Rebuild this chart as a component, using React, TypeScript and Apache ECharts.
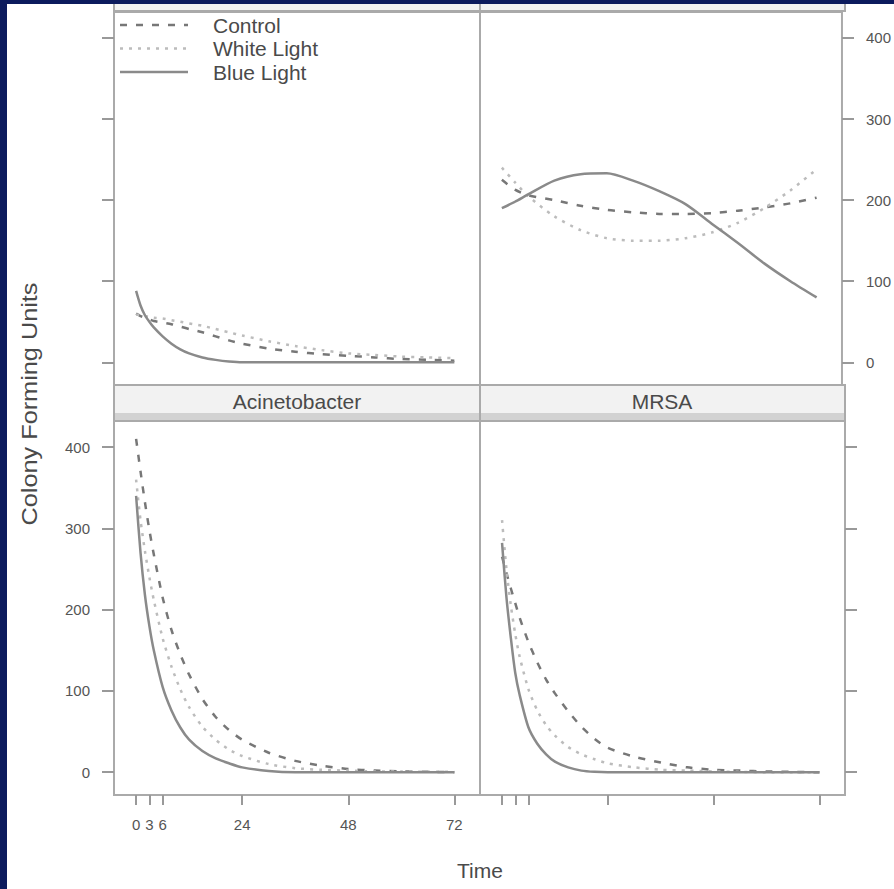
import React, { useEffect, useRef } from "react";
import * as echarts from "echarts";

// ---- data ----
const HOURS = [0, 1, 2, 3, 4, 6, 8, 10, 12, 15, 18, 21, 24, 30, 36, 42, 48, 54, 60, 66, 72];
const HOURS_TR = [0, 3, 6, 12, 18, 24, 30, 36, 42, 48, 54, 60, 66, 72];

const panelNames = ["E. coli", "S. aureus", "Acinetobacter", "MRSA"];
const treatments = ["Control", "White Light", "Blue Light"];

// top-left panel (HOURS)
const p1Control = [60, 57, 55, 53, 51, 49, 47, 44, 41, 37, 32, 27, 23, 17, 13, 10, 8, 6, 4, 3, 2];
const p1White = [59, 58, 57, 56, 55, 54, 52, 50, 48, 45, 41, 37, 33, 26, 20, 15, 11, 9, 7, 6, 5];
const p1Blue = [88, 70, 58, 50, 43, 32, 23, 16, 11, 6, 3, 1, 0, 0, 0, 0, 0, 0, 0, 0, 0];

// top-right panel (HOURS_TR)
const p2Control = [225, 213, 206, 200, 193, 188, 185, 183, 183, 184, 187, 191, 196, 203];
const p2White = [240, 222, 205, 180, 163, 153, 150, 150, 153, 160, 172, 190, 212, 238];
const p2Blue = [190, 198, 207, 224, 232, 233, 224, 211, 195, 171, 147, 122, 100, 80];

// Acinetobacter (HOURS)
const p3Control = [410, 370, 332, 298, 268, 215, 175, 145, 120, 90, 68, 52, 40, 24, 14, 8, 4, 2, 1, 0.5, 0];
const p3White = [360, 310, 272, 240, 212, 165, 130, 102, 80, 56, 40, 28, 20, 10, 5, 3, 2, 1, 1, 0.5, 0.5];
const p3Blue = [340, 270, 218, 180, 150, 105, 76, 55, 40, 26, 17, 11, 6, 1.5, 0, 0, 0, 0, 0, 0, 0];

// MRSA (HOURS)
const p4Control = [265, 245, 226, 208, 190, 160, 135, 114, 97, 75, 56, 41, 30, 19, 12, 6, 3, 2, 1, 0.5, 0];
const p4White = [310, 250, 205, 170, 142, 102, 76, 58, 45, 31, 22, 16, 11, 6, 3, 2, 1, 0.5, 0, 0, 0];
const p4Blue = [282, 215, 165, 122, 95, 55, 35, 22, 13, 6, 2, 0.5, 0, 0, 0, 0, 0, 0, 0, 0, 0];

const xTicks = [0, 3, 6, 24, 48, 72];
const yTicks = [0, 100, 200, 300, 400];

const panelData = [
  { hours: HOURS, values: [p1Control, p1White, p1Blue] },
  { hours: HOURS_TR, values: [p2Control, p2White, p2Blue] },
  { hours: HOURS, values: [p3Control, p3White, p3Blue] },
  { hours: HOURS, values: [p4Control, p4White, p4Blue] },
];

const FONT = '"Liberation Sans", Arial, sans-serif';
const lineStyles: any[] = [
  { color: "#777777", width: 2.5, type: [7, 9] },
  { color: "#bcbcbc", width: 2.5, type: [3, 6] },
  { color: "#8a8a8a", width: 2.5, type: "solid" },
];

export default function App() {
  const ref = useRef<HTMLDivElement>(null);
  useEffect(() => {
    if (!ref.current) return;
    const chart = echarts.init(ref.current, undefined, { renderer: "svg" });

    const grids = [
      { left: 114, top: 12, width: 366, height: 373 },
      { left: 480, top: 12, width: 365, height: 373 },
      { left: 114, top: 421, width: 366, height: 374 },
      { left: 480, top: 421, width: 365, height: 374 },
    ].map((g) => ({ ...g, show: true, borderColor: "#aaaaaa", borderWidth: 2, backgroundColor: "#ffffff" }));

    const xAxis = [0, 1, 2, 3].map((i) => ({
      type: "value",
      gridIndex: i,
      min: -5,
      max: 77.8,
      position: i < 2 ? "top" : "bottom",
      axisLine: { show: false, onZero: false },
      splitLine: { show: false },
      axisTick: { show: i >= 2, customValues: xTicks, length: 10, lineStyle: { color: "#999999", width: 2 } },
      axisLabel: { show: i === 2, customValues: xTicks, fontSize: 15, color: "#555555", margin: 22, fontFamily: FONT },
    }));

    const yAxis = [0, 1, 2, 3].map((i) => ({
      type: "value",
      gridIndex: i,
      min: -28,
      max: 432,
      position: i === 1 || i === 3 ? "right" : "left",
      axisLine: { show: false, onZero: false },
      splitLine: { show: false },
      axisTick: { show: true, customValues: yTicks, length: 12, lineStyle: { color: "#999999", width: 2 } },
      axisLabel: { show: i === 1 || i === 2, customValues: yTicks, fontSize: 15, color: "#555555", margin: 24, fontFamily: FONT },
    }));

    const series: any[] = [];
    panelData.forEach((p, i) => {
      p.values.forEach((vals, k) => {
        series.push({
          type: "line",
          name: treatments[k],
          xAxisIndex: i,
          yAxisIndex: i,
          data: p.hours.map((t, j) => [t, vals[j]]),
          showSymbol: false,
          smooth: 0.25,
          silent: true,
          lineStyle: { ...lineStyles[k], cap: "butt", join: "round" },
        });
      });
    });

    const txt = (text: string, x: number, y: number, size: number, extra: any = {}) => ({
      type: "text",
      x,
      y,
      z: 100,
      ...extra,
      style: {
        text,
        fill: "#4a4a4a",
        font: `${size}px ${FONT}`,
        textAlign: extra.align || "center",
        align: extra.align || "center",
        textVerticalAlign: "middle",
        verticalAlign: "middle",
      },
    });

    const legendItems = treatments.map((name, k) => {
      const y = 25 + k * 23.5;
      const ls = lineStyles[k];
      return [
        {
          type: "line",
          z: 100,
          shape: { x1: 120, y1: y, x2: 188, y2: y },
          style: { stroke: ls.color, lineWidth: ls.width, lineDash: Array.isArray(ls.type) ? ls.type : null },
        },
        txt(name, 213, y, 21, { align: "left" }),
      ];
    }).flat();

    const graphic: any[] = [
      // top strip (mostly cut off by the picture's top edge)
      { type: "rect", z: 90, shape: { x: 114, y: -30, width: 731, height: 41 }, style: { fill: "#f2f2f2", stroke: "#aaaaaa", lineWidth: 2 } },
      { type: "line", z: 90, shape: { x1: 480, y1: -30, x2: 480, y2: 12 }, style: { stroke: "#aaaaaa", lineWidth: 2 } },
      txt(panelNames[0], 297, -4, 21),
      txt(panelNames[1], 662, -4, 21),
      // bottom row strip
      { type: "rect", z: 90, shape: { x: 114, y: 385, width: 731, height: 36 }, style: { fill: "#f2f2f2", stroke: "#aaaaaa", lineWidth: 2 } },
      { type: "rect", z: 91, shape: { x: 115, y: 413, width: 729, height: 7 }, style: { fill: "#d2d2d2" } },
      { type: "line", z: 92, shape: { x1: 480, y1: 385, x2: 480, y2: 421 }, style: { stroke: "#aaaaaa", lineWidth: 2 } },
      txt(panelNames[2], 297, 401, 21),
      txt(panelNames[3], 662, 401, 21),
      ...legendItems,
      // axis titles
      txt("Colony Forming Units", 30, 404, 22, { rotation: Math.PI / 2, scaleX: 1.15 }),
      txt("Time", 480, 870, 21),
      // navy frame
      { type: "rect", z: 200, shape: { x: 0, y: 0, width: 7, height: 889 }, style: { fill: "#0c1b5d" } },
      { type: "rect", z: 200, shape: { x: 0, y: 0, width: 894, height: 4 }, style: { fill: "#0c1b5d" } },
    ];

    chart.setOption({
      animation: false,
      backgroundColor: "#ffffff",
      textStyle: { fontFamily: FONT },
      grid: grids,
      xAxis,
      yAxis,
      series,
      graphic,
    });
    return () => chart.dispose();
  }, []);
  return <div ref={ref} style={{ position: "absolute", left: 0, top: 0, width: 894, height: 889 }} />;
}
